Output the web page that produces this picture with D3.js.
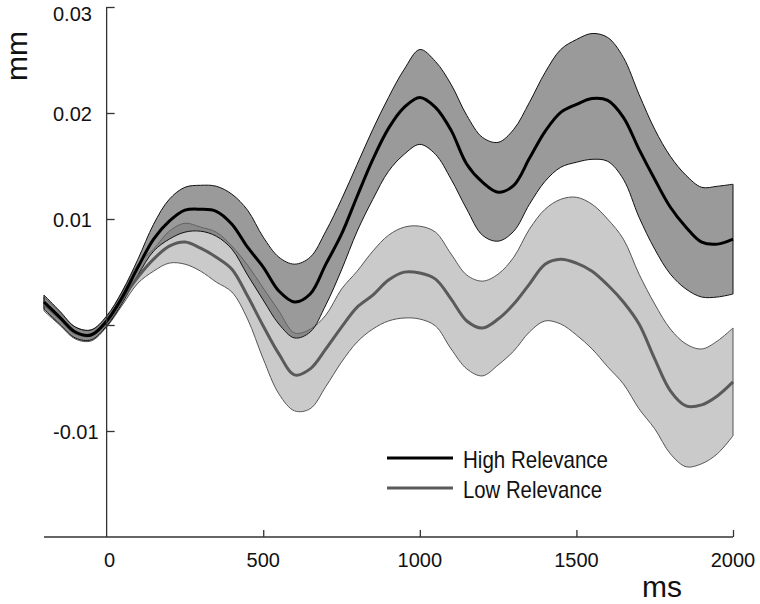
<!DOCTYPE html>
<html>
<head>
<meta charset="utf-8">
<script src="https://cdn.jsdelivr.net/npm/d3@7/dist/d3.min.js"></script>
<style>
  html, body { margin: 0; padding: 0; background: #fff; }
  svg { display: block; font-family: "Liberation Sans", Arial, Helvetica, sans-serif; }
</style>
</head>
<body>
<svg id="chart" width="760" height="604"></svg>
<script>
// time in ms
const times = [-200,-150,-100,-50,0,50,100,150,200,250,300,350,400,450,500,550,600,650,700,750,800,850,900,950,1000,1050,1100,1150,1200,1250,1300,1350,1400,1450,1500,1550,1600,1650,1700,1750,1800,1850,1900,1950,2000];

// values in 0.001 mm
const highMean = [2.17,0.75,-0.66,-0.94,0.38,2.64,5.46,8.10,9.79,10.83,10.92,10.73,9.51,7.34,5.46,3.20,2.17,2.92,5.74,8.57,12.15,15.63,18.55,20.53,21.47,20.53,18.36,15.16,13.47,12.52,13.18,15.72,18.27,20.06,20.81,21.37,21.19,19.59,16.57,13.75,11.11,9.23,7.82,7.63,8.10];
const highUpper = [2.82,1.32,-0.19,-0.47,0.85,3.20,6.21,9.51,11.86,12.99,13.18,13.09,12.34,10.83,8.29,6.40,5.74,6.40,8.85,11.86,15.16,18.46,21.47,24.11,25.99,24.86,22.69,19.77,17.70,17.23,18.46,21.00,23.82,25.99,26.93,27.50,27.12,25.24,21.75,18.46,15.91,14.12,12.99,13.09,13.28];
const highLower = [1.51,0.09,-1.22,-1.41,-0.09,2.07,4.71,6.97,8.10,8.76,8.85,8.38,7.16,4.71,2.35,0.09,-1.22,-0.66,1.90,5.20,8.85,11.86,14.50,16.10,17.04,16.10,13.75,10.92,8.47,7.91,8.85,11.39,13.56,14.88,15.35,15.63,15.44,13.75,10.17,7.16,4.80,3.39,2.64,2.64,2.92];

const lowMean = [1.98,0.66,-0.75,-0.94,0.28,2.45,4.52,6.21,7.44,7.82,7.25,6.40,5.27,2.73,-0.09,-2.73,-4.71,-4.14,-2.26,-0.20,1.69,2.82,4.24,4.99,4.90,4.33,2.45,0.38,-0.28,0.56,1.98,3.86,5.74,6.21,5.84,5.08,3.77,2.17,0.09,-3.20,-6.21,-7.63,-7.53,-6.69,-5.37];
const lowUpper = [2.64,1.22,-0.19,-0.47,0.75,3.11,5.74,7.16,8.85,9.60,9.23,8.76,7.44,5.65,3.48,1.32,-0.75,-0.40,0.94,3.39,5.08,6.97,8.47,9.23,9.32,8.76,6.69,4.71,4.14,4.80,6.40,9.04,10.92,11.86,12.05,11.39,9.98,8.10,4.80,1.98,-0.38,-1.79,-2.26,-1.51,-0.28];
const lowLower = [1.32,0.00,-1.32,-1.51,-0.19,1.88,3.95,5.08,5.84,5.74,5.08,4.05,3.11,0.56,-3.20,-6.50,-8.10,-7.90,-5.80,-3.50,-1.60,-0.38,0.38,0.66,0.56,-0.09,-2.26,-4.14,-4.80,-3.77,-2.45,-0.66,0.38,0.09,-0.94,-2.26,-3.95,-5.56,-7.91,-9.79,-12.15,-13.37,-13.09,-12.15,-10.45];

const xTicks = [0, 500, 1000, 1500, 2000];
const yTicks = [0.03, 0.02, 0.01, 0, -0.01];
const yTickLabels = ["0.03", "0.02", "0.01", "", "-0.01"];
const seriesNames = ["High Relevance", "Low Relevance"];

const svg = d3.select("#chart");
const x = d3.scaleLinear().domain([-200, 2000]).range([44, 733]);
const y = d3.scaleLinear().domain([-0.02, 0.03]).range([537, 7]);

function rows(mean, up, lo) {
  return times.map((t, i) => ({ t, m: mean[i] / 1000, u: up[i] / 1000, l: lo[i] / 1000 }));
}
const high = rows(highMean, highUpper, highLower);
const low = rows(lowMean, lowUpper, lowLower);

const area = d3.area().x(d => x(d.t)).y0(d => y(d.l)).y1(d => y(d.u)).curve(d3.curveCatmullRom.alpha(0.5));
const line = d3.line().x(d => x(d.t)).y(d => y(d.m)).curve(d3.curveCatmullRom.alpha(0.5));

// bands
svg.append("path").datum(low).attr("d", area)
  .attr("fill", "#cacaca").attr("stroke", "#555").attr("stroke-width", 1);
svg.append("path").datum(high).attr("d", area)
  .attr("fill", "#696969").attr("fill-opacity", 0.67)
  .attr("stroke", "#111").attr("stroke-width", 1);

// mean lines
svg.append("path").datum(low).attr("d", line)
  .attr("fill", "none").attr("stroke", "#5a5a5a").attr("stroke-width", 3);
svg.append("path").datum(high).attr("d", line)
  .attr("fill", "none").attr("stroke", "#000").attr("stroke-width", 3);

// axes
const axisColor = "#333";
const gx = svg.append("g").attr("transform", `translate(0,${y(-0.02)})`)
  .call(d3.axisTop(x).tickValues(xTicks.filter(v => v !== 0)).tickSize(7).tickFormat(""));
gx.select(".domain").attr("d", `M${x(-200)},0H${x(2000)}`);
gx.selectAll("path,line").attr("stroke", axisColor).attr("stroke-width", 1.3);

const gy = svg.append("g").attr("transform", `translate(${x(0)},0)`)
  .call(d3.axisRight(y).tickValues(yTicks).tickSize(8).tickFormat(""));
gy.select(".domain").attr("d", `M0,${y(0.03)}V${y(-0.02)}`);
gy.selectAll("path,line").attr("stroke", axisColor).attr("stroke-width", 1.3);

// tick labels
svg.append("g").selectAll("text").data(xTicks).join("text")
  .attr("x", d => x(d) + (d === 0 ? 3 : 0)).attr("y", 567)
  .attr("text-anchor", "middle").attr("font-size", 20).attr("fill", "#111")
  .text(d => d);
svg.append("g").selectAll("text").data(yTicks).join("text")
  .attr("x", 53).attr("y", d => Math.max(y(d) + 7.5, 21))
  .attr("text-anchor", "start").attr("font-size", 20).attr("fill", "#111")
  .text((d, i) => yTickLabels[i]);

// axis titles
svg.append("text").attr("transform", "translate(27,56) rotate(-90)")
  .attr("text-anchor", "middle").attr("font-size", 30).attr("fill", "#111").text("mm");
svg.append("text").attr("x", 642).attr("y", 597)
  .attr("font-size", 30).attr("fill", "#111").text("ms");

// legend
const legend = [
  { name: seriesNames[0], color: "#000", ly: 458, tw: 145 },
  { name: seriesNames[1], color: "#5a5a5a", ly: 488, tw: 139 }
];
const lg = svg.append("g");
lg.selectAll("line").data(legend).join("line")
  .attr("x1", 387).attr("x2", 453).attr("y1", d => d.ly).attr("y2", d => d.ly)
  .attr("stroke", d => d.color).attr("stroke-width", 3);
lg.selectAll("text").data(legend).join("text")
  .attr("x", 463).attr("y", d => d.ly + 10)
  .attr("font-size", 24).attr("fill", "#111")
  .attr("textLength", d => d.tw).attr("lengthAdjust", "spacingAndGlyphs")
  .text(d => d.name);
</script>
</body>
</html>
